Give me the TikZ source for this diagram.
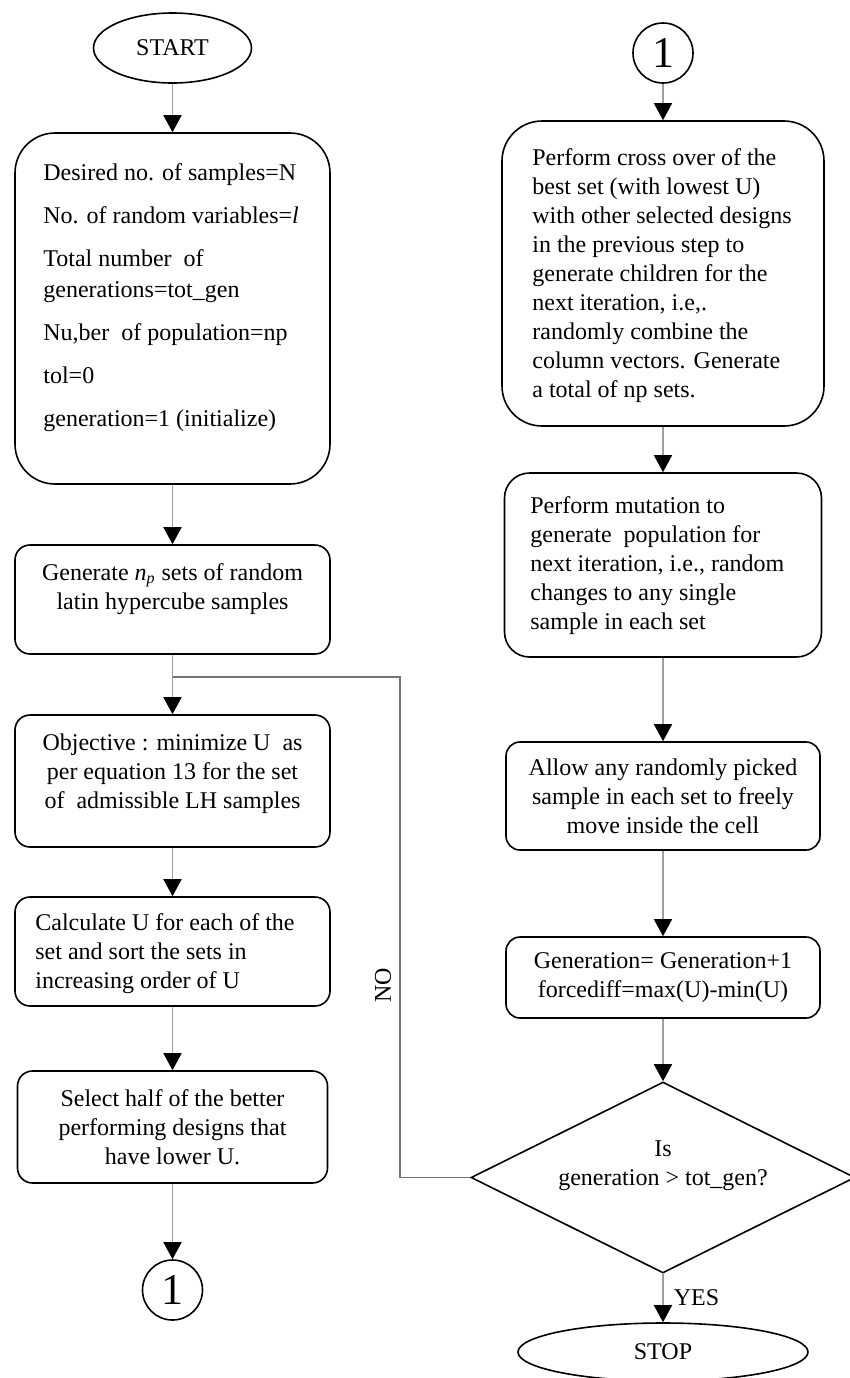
\documentclass[tikz,border=0pt]{standalone}
\usepackage{fontspec}
\setmainfont{Liberation Serif}
\usetikzlibrary{arrows.meta,shapes.geometric,calc}
\definecolor{shaft}{RGB}{160,160,160}
\definecolor{loopc}{RGB}{115,115,115}
\begin{document}
\begin{tikzpicture}[x=0.5pt,y=-0.5pt,
  every node/.style={inner sep=0pt, font=\fontsize{12}{14.5}\selectfont},
  box/.style={draw=black, line width=0.8pt},
  term/.style={draw=black, line width=0.8pt, ellipse},
  conn/.style={draw=black, line width=0.8pt, circle, minimum size=30pt, font=\fontsize{22}{22}\selectfont},
  txt/.style={align=left},
  ctxt/.style={align=center},
  flow/.style={draw=shaft, line width=0.9pt, -{Triangle[width=9pt,length=8.5pt,color=black]}},
  loopline/.style={draw=loopc, line width=0.6pt}
]
\useasboundingbox (0,0) rectangle (850,1378);

% left column
\node[term, minimum width=79pt, minimum height=35pt] (start) at (172.5,48) {START};

\node[box, rounded corners=20pt, minimum width=157.5pt, minimum height=175.5pt] (b1) at (172.5,308.5) {};
\node[txt, anchor=west, font=\fontsize{12}{15.5}\selectfont] (t1) at (43,298) {Desired no. of samples=N\\[6pt]No. of random variables=\textit{l}\\[6pt]Total number\ \ of\\generations=tot\_gen\\[6pt]Nu,ber\ \ of population=np\\[6pt]tol=0\\[6pt]generation=1 (initialize)};

\node[box, rounded corners=7.5pt, minimum width=157.5pt, minimum height=54.5pt] (b2) at (172.5,599.5) {};
\node[ctxt] (t2) at (172.5,589) {Generate \textit{n}\textsubscript{\textit{p}} sets of random\\latin hypercube samples};

\node[box, rounded corners=7.5pt, minimum width=157.5pt, minimum height=66pt] (b3) at (172.5,781) {};
\node[ctxt] (t3) at (172.5,773.5) {Objective : minimize U\ \ as\\per equation 13 for the set\\of\ \ admissible LH samples};

\node[box, rounded corners=7.5pt, minimum width=157.5pt, minimum height=54.5pt] (b4) at (172.5,951.5) {};
\node[txt, anchor=west] (t4) at (35,954) {Calculate U for each of the\\set and sort the sets in\\increasing order of U};

\node[box, rounded corners=7.5pt, minimum width=155pt, minimum height=56pt, ctxt] (b5) at (172.5,1127) {Select half of the better\\performing designs that\\have lower U.};

\node[conn] (c1) at (172.5,1290) {1};

% right column
\node[conn] (c2) at (663,53) {1};

\node[box, rounded corners=20pt, minimum width=161pt, minimum height=152.5pt] (b6) at (663,273.5) {};
\node[txt, anchor=west] (t6) at (532,276) {Perform cross over of the\\best set (with lowest U)\\with other selected designs\\in the previous step to\\generate children for the\\next iteration, i.e,.\\randomly combine the\\column vectors. Generate\\a total of np sets.};

\node[box, rounded corners=12.5pt, minimum width=158.5pt, minimum height=92pt] (b7) at (663,565) {};
\node[txt, anchor=west] (t7) at (530,566) {Perform mutation to\\generate\ \ population for\\next iteration, i.e., random\\changes to any single\\sample in each set};

\node[box, rounded corners=7pt, minimum width=157pt, minimum height=54pt, ctxt] (b8) at (663,796) {Allow any randomly picked\\sample in each set to freely\\move inside the cell};

\node[box, rounded corners=7pt, minimum width=157pt, minimum height=40.5pt, ctxt] (b9) at (663,977.5) {Generation= Generation+1\\forcediff=max(U)-min(U)};

\node[draw=black, line width=0.8pt, diamond, aspect=2.01, minimum width=192pt, minimum height=95.5pt, ctxt] (d) at (663,1177.5) {Is\\generation > tot\_gen?\\\mbox{}};

\node[term, minimum width=145pt, minimum height=29pt] (stop) at (663,1352) {STOP};

% connectors
\draw[flow] (start.south) -- (b1.north);
\draw[flow] (b1.south) -- (b2.north);
\draw[flow] (b2.south) -- (b3.north);
\draw[flow] (b3.south) -- (b4.north);
\draw[flow] (b4.south) -- (b5.north);
\draw[flow] (b5.south) -- (c1.north);

\draw[flow] (c2.south) -- (b6.north);
\draw[flow] (b6.south) -- (b7.north);
\draw[flow] (b7.south) -- (b8.north);
\draw[flow] (b8.south) -- (b9.north);
\draw[flow] (b9.south) -- (d.north);
\draw[flow] (d.south) -- node[anchor=west, xshift=5pt] (yes) {YES} (stop.north);

\coordinate (J) at (172.5,677);
\coordinate (R) at (400,677);
\draw[loopline] (d.west) -| (R) -- (J);
\node[rotate=90] (no) at (383,985) {NO};
\end{tikzpicture}
\end{document}
